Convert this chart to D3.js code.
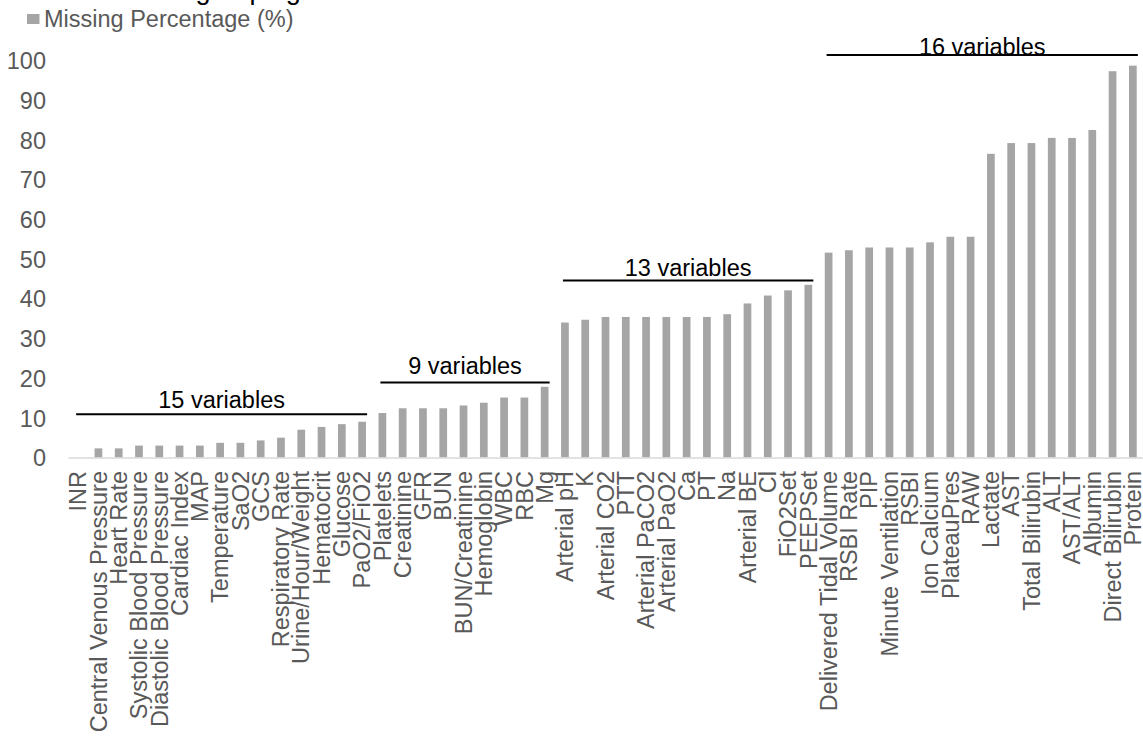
<!DOCTYPE html>
<html>
<head>
<meta charset="utf-8">
<script src="https://cdn.jsdelivr.net/npm/d3@7"></script>
<style>
  html, body { margin: 0; padding: 0; background: #fff; }
  svg { display: block; font-family: "Liberation Sans", Arial, Helvetica, sans-serif; }
</style>
</head>
<body>
<svg id="chart" width="1143" height="740"></svg>
<script>
const categories = [
  "INR", "Central Venous Pressure", "Heart Rate", "Systolic Blood Pressure", "Diastolic Blood Pressure",
  "Cardiac Index", "MAP", "Temperature", "SaO2", "GCS", "Respiratory Rate", "Urine/Hour/Weight",
  "Hematocrit", "Glucose", "PaO2/FiO2",
  "Platelets", "Creatinine", "GFR", "BUN", "BUN/Creatinine", "Hemoglobin", "WBC", "RBC", "Mg",
  "Arterial pH", "K", "Arterial CO2", "PTT", "Arterial PaCO2", "Arterial PaO2", "Ca", "PT", "Na",
  "Arterial BE", "Cl", "FiO2Set", "PEEPSet",
  "Delivered Tidal Volume", "RSBI Rate", "PIP", "Minute Ventilation", "RSBI", "Ion Calcium",
  "PlateauPres", "RAW", "Lactate", "AST", "Total Bilirubin", "ALT", "AST/ALT", "Albumin",
  "Direct Bilirubin", "Protein"
];
const missingPct = [
  0, 2.3, 2.3, 3.0, 3.0, 3.0, 3.0, 3.7, 3.7, 4.3, 5.0, 7.0, 7.7, 8.4, 9.0,
  11.2, 12.4, 12.4, 12.4, 13.1, 13.8, 15.1, 15.1, 17.8,
  34.0, 34.7, 35.4, 35.4, 35.4, 35.4, 35.4, 35.4, 36.1, 38.8, 40.8, 42.1, 43.5,
  51.6, 52.2, 52.9, 52.9, 52.9, 54.2, 55.6, 55.6, 76.5, 79.2, 79.2, 80.5, 80.5, 82.5, 97.3, 98.7
];
const yTicks = [0, 10, 20, 30, 40, 50, 60, 70, 80, 90, 100];
const seriesName = "Missing Percentage (%)";
const groupLabels = ["15 variables", "9 variables", "13 variables", "16 variables"];
const groupFirst = ["INR", "Platelets", "Arterial pH", "Delivered Tidal Volume"];
const groupLast = ["PaO2/FiO2", "Mg", "PEEPSet", "Protein"];
const groupLevel = [10.9, 18.9, 44.6, 101.4];
const titleText = "Variable grouping";

const svg = d3.select("#chart");
const FS = 23.5;
const labelColor = "#595959";
const barColor = "#a5a5a5";
const textGap = [6, 8, 4, 0];

const x = d3.scaleBand().domain(categories).range([68, 1143]).paddingInner(0.62).paddingOuter(0.31);
const y = d3.scaleLinear().domain([0, 100]).range([457.5, 60.5]);

// clipped title at very top
svg.append("text").attr("x", 91).attr("y", -1)
  .attr("font-size", 27).attr("fill", "#000").text(titleText);

// legend
svg.append("rect").attr("x", 27).attr("y", 14).attr("width", 12.5).attr("height", 10).attr("fill", barColor);
svg.append("text").attr("x", 44).attr("y", 26.5).attr("font-size", FS).attr("fill", labelColor).text(seriesName);

// y axis labels
const yAxis = d3.axisLeft(y).tickValues(yTicks).tickSize(0).tickPadding(0);
const yg = svg.append("g").attr("transform", "translate(46,0)").call(yAxis);
yg.select(".domain").remove();
yg.selectAll("text").attr("font-size", FS).attr("fill", labelColor)
  .attr("font-family", "Liberation Sans, Arial, sans-serif").attr("dy", "0.35em");

// bars
svg.append("g").selectAll("rect").data(categories).join("rect")
  .attr("x", d => x(d))
  .attr("width", x.bandwidth())
  .attr("y", (d, i) => y(missingPct[i]))
  .attr("height", (d, i) => y(0) - y(missingPct[i]))
  .attr("fill", barColor);

// x axis
const xAxis = d3.axisBottom(x).tickSize(0).tickPadding(0);
const xg = svg.append("g").attr("transform", `translate(0,${y(0)})`).call(xAxis);
xg.select(".domain").attr("stroke", "#d9d9d9").attr("stroke-width", 1.6);
xg.selectAll("text")
  .attr("font-size", FS).attr("fill", labelColor)
  .attr("font-family", "Liberation Sans, Arial, sans-serif")
  .attr("text-anchor", "end")
  .attr("transform", "rotate(-90)")
  .attr("x", -13.5).attr("y", 0).attr("dy", "0.35em");

// group annotations
const ga = svg.append("g");
groupLabels.forEach((lab, i) => {
  const x1 = x(groupFirst[i]) + x.bandwidth() / 2 - 2;
  const x2 = x(groupLast[i]) + x.bandwidth() / 2 + 5;
  const yy = y(groupLevel[i]);
  ga.append("line").attr("x1", x1).attr("x2", x2).attr("y1", yy).attr("y2", yy)
    .attr("stroke", "#000").attr("stroke-width", 2);
  ga.append("text").attr("x", (x1 + x2) / 2).attr("y", yy - textGap[i])
    .attr("text-anchor", "middle").attr("font-size", FS).attr("fill", "#000").text(lab);
});
</script>
</body>
</html>
